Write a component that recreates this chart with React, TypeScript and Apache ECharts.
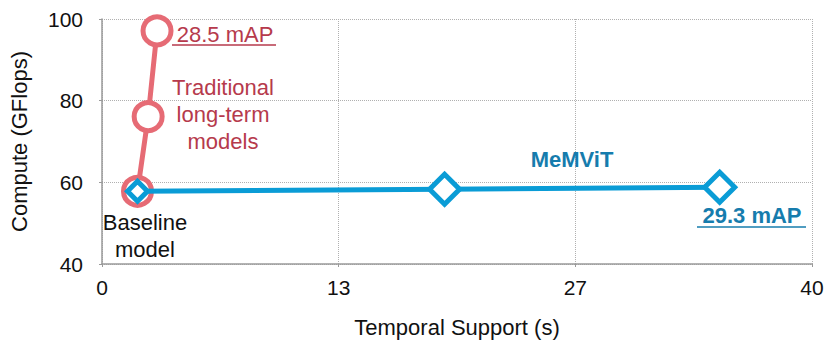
import React, { useEffect, useRef } from "react";
import * as echarts from "echarts";

const traditionalX = [2.0, 2.6, 3.1];
const traditionalY = [57.8, 76.1, 97.1];
const memvitX = [2.0, 19.3, 34.8];
const memvitY = [57.8, 58.3, 58.8];
const xTicks = [0, 13, 27, 40];
const yTicks = [40, 60, 80, 100];

const RED = "#E66B75";
const RED_TEXT = "#B63A4C";
const BLUE = "#0A9CD6";
const BLUE_TEXT = "#167CAD";
const FONT = "'Liberation Sans', Arial, Helvetica, sans-serif";

export default function App() {
  const ref = useRef<HTMLDivElement>(null);
  useEffect(() => {
    document.body.style.margin = "0";
    const chart = echarts.init(ref.current!, undefined, { renderer: "svg" });
    const txt = (text: string, x: number, y: number, color: string, bold = false, size = 22) => ({
      type: "text",
      x,
      y,
      style: {
        text,
        fill: color,
        font: `${bold ? "bold " : ""}${size}px ${FONT}`,
        textAlign: "center",
        textVerticalAlign: "middle",
      },
      z: 10,
    });
    const uline = (x1: number, x2: number, y: number, color: string) => ({
      type: "line",
      shape: { x1, y1: y, x2, y2: y },
      style: { stroke: color, lineWidth: 1.5 },
      z: 10,
    });
    chart.setOption({
      animation: false,
      textStyle: { fontFamily: FONT },
      grid: { left: 100, right: 19, top: 19, bottom: 84 },
      xAxis: {
        type: "value",
        min: 0,
        max: 40,
        interval: 40 / 3,
        name: "Temporal Support (s)",
        nameLocation: "middle",
        nameGap: 52,
        nameTextStyle: { fontSize: 22, color: "#111", fontFamily: FONT },
        axisLine: { lineStyle: { color: "#9a9a9a", width: 1.5 } },
        axisTick: { show: true, length: 3, lineStyle: { color: "#9a9a9a" } },
        axisLabel: {
          fontSize: 21,
          color: "#111",
          margin: 13,
          formatter: (v: number) => String(xTicks[Math.round(v / (40 / 3))] ?? Math.round(v)),
        },
        splitLine: { show: true, lineStyle: { type: "dotted", color: "#b0b0b0", width: 1 } },
      },
      yAxis: {
        type: "value",
        min: 40,
        max: 100,
        interval: 20,
        name: "Compute (GFlops)",
        nameLocation: "middle",
        nameGap: 72,
        nameTextStyle: { fontSize: 22, color: "#111", fontFamily: FONT },
        axisLine: { show: true, lineStyle: { color: "#9a9a9a", width: 1.5 } },
        axisTick: { show: true, length: 3, lineStyle: { color: "#9a9a9a" } },
        axisLabel: {
          fontSize: 21,
          color: "#111",
          margin: 19,
          formatter: (v: number) => (yTicks.includes(v) ? String(v) : ""),
        },
        splitLine: { show: true, lineStyle: { type: "dotted", color: "#b0b0b0", width: 1 } },
      },
      series: [
        {
          type: "line",
          name: "Traditional",
          data: traditionalX.map((x, i) => [x, traditionalY[i]]),
          symbol: "circle",
          symbolSize: 28,
          showAllSymbol: true,
          lineStyle: { color: RED, width: 5 },
          itemStyle: { color: "#fff", borderColor: RED, borderWidth: 5 },
          z: 2,
        },
        {
          type: "line",
          name: "MeMViT",
          data: memvitX.map((x, i) => ({ value: [x, memvitY[i]], symbolSize: i === 0 ? 20 : 30 })),
          symbol: "diamond",
          showAllSymbol: true,
          lineStyle: { color: BLUE, width: 5 },
          itemStyle: { color: "#fff", borderColor: BLUE, borderWidth: 5 },
          z: 3,
        },
      ],
      graphic: [
        txt("28.5 mAP", 225, 34, RED_TEXT),
        uline(172, 276, 45, RED_TEXT),
        txt("Traditional", 223, 87, RED_TEXT),
        txt("long-term", 223, 114, RED_TEXT),
        txt("models", 223, 141, RED_TEXT),
        txt("MeMViT", 572, 159, BLUE_TEXT, true),
        txt("29.3 mAP", 752, 215, BLUE_TEXT, true),
        uline(697, 806, 227, BLUE_TEXT),
        txt("Baseline", 145, 222, "#111"),
        txt("model", 145, 249, "#111"),
      ],
    });
    return () => chart.dispose();
  }, []);
  return <div ref={ref} style={{ position: "absolute", left: 0, top: 0, width: 831, height: 348 }} />;
}
